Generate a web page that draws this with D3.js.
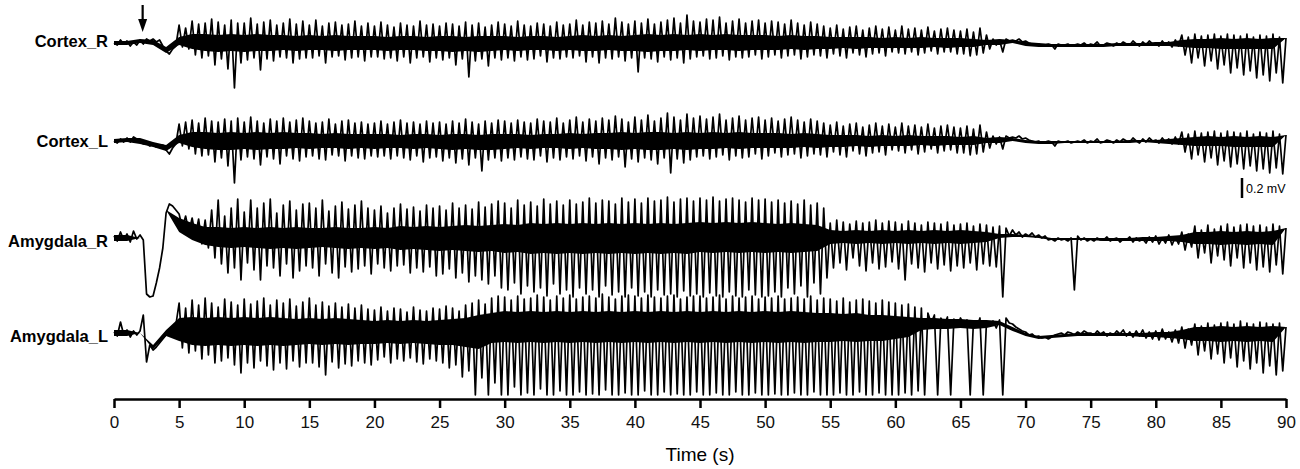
<!DOCTYPE html>
<meta charset="utf-8">
<style>
body { margin: 0; background: #fff; }
.trace { fill: none; stroke: #000; stroke-width: 1.7px; stroke-linejoin: round; }
.core { fill: #000; stroke: none; }
.label { font: bold 16.5px "Liberation Sans", Arial, sans-serif; text-anchor: end; }
.axis path, .axis line { stroke: #000; stroke-width: 2.5px; }
.axis text { font: 17px "Liberation Sans", Arial, sans-serif; fill: #111; }
</style>
<body>
<script src="https://d3js.org/d3.v7.min.js"></script>
<script>

var sampleRate = 4;
var channels = ["Cortex_R", "Cortex_L", "Amygdala_R", "Amygdala_L"];
var xTicks = [0,5,10,15,20,25,30,35,40,45,50,55,60,65,70,75,80,85,90];
var stimTime = 2.2;        // arrow
var scaleBarValue = 200;   // 0.2 mV

var cortexR = [
  0,-20,30,-10, 20,-30,10,-20, 30,-10,40,20, 40,10,30,-30, -80,-110,-60,-30,
  180,-40,150,-60, 220,-120,190,-150, 200,-130,240,-220, 210,-160,180,-260, 230,-450,200,-200,
  200,-170,250,-150, 190,-270,210,-160, 230,-180,180,-140, 200,-150,240,-200, 190,-160,220,-150,
  180,-150,230,-130, 170,-200,200,-140, 210,-130,180,-170, 190,-150,220,-140, 170,-180,200,-140,
  170,-140,210,-160, 180,-150,160,-180, 200,-140,180,-200, 170,-150,220,-140, 180,-190,190,-150,
  170,-170,200,-150, 190,-220,170,-160, 210,-340,180,-180, 200,-160,160,-230, 180,-150,210,-170,
  190,-150,170,-180, 220,-140,180,-170, 170,-160,200,-130, 190,-190,170,-150, 210,-160,180,-140,
  190,-150,230,-130, 180,-190,210,-140, 200,-200,220,-150, 190,-160,250,-140, 210,-180,190,-150,
  220,-290,200,-150, 240,-160,190,-190, 210,-140,230,-170, 250,-150,200,-200, 280,-160,220,-140,
  210,-130,240,-160, 230,-150,260,-130, 200,-170,220,-140, 240,-150,200,-140, 220,-120,230,-160,
  200,-140,220,-120, 210,-150,190,-130, 230,-120,200,-160, 180,-140,210,-120, 190,-130,170,-150,
  150,-110,180,-130, 140,-150,160,-100, 170,-120,130,-140, 150,-110,170,-100, 140,-130,160,-90,
  130,-100,170,-110, 140,-90,150,-120, 130,-100,160,-80, 120,-110,140,-90, 150,-90,130,-110,
  120,-110,140,-130, 110,-120,150,-100, 80,-60,40,-20, 30,-90,40,20, 30,20,40,10,
  20,0,-10,-20, -10,-30,-20,-10, -20,-60,-10,-20, -20,-10,-30,-20, -10,-20,0,-30,
  -10,-20,10,-30, -20,0,-10,-30, 0,-20,10,-10, -20,20,-10,-30, 10,-20,20,-10,
  0,-30,20,-20, 10,-40,30,-30, 80,-120,60,-200, 90,-150,70,-230, 80,-180,90,-260,
  70,-220,90,-300, 80,-250,70,-320, 90,-280,60,-350, 80,-320,70,-380, 90,-300,60,-400,
  50
];

var cortexL = [
  0,-20,20,-10, 30,-10,40,20, 10,-30,-20,-50, -30,-60,-50,-40, -90,-130,-70,-30,
  170,-50,190,-80, 210,-130,180,-150, 230,-140,200,-210, 190,-170,220,-250, 200,-420,230,-190,
  190,-160,240,-180, 200,-240,180,-160, 220,-180,200,-230, 230,-150,190,-180, 210,-200,230,-160,
  200,-150,180,-180, 190,-190,220,-140, 170,-150,200,-200, 210,-150,180,-170, 190,-180,170,-150,
  180,-160,200,-150, 170,-180,190,-150, 210,-170,180,-190, 190,-150,170,-210, 200,-170,180,-160,
  190,-200,170,-170, 200,-220,180,-180, 220,-240,190,-170, 170,-300,200,-190, 180,-170,210,-200,
  200,-170,180,-190, 210,-160,190,-180, 180,-190,220,-150, 200,-210,190,-170, 230,-190,180,-160,
  210,-180,240,-150, 190,-200,220,-160, 200,-230,230,-170, 210,-190,250,-160, 220,-260,190,-180,
  240,-210,210,-170, 260,-190,200,-230, 230,-170,280,-320, 240,-180,210,-220, 270,-190,230,-160,
  250,-150,220,-180, 240,-160,270,-140, 210,-190,230,-150, 250,-170,210,-160, 230,-130,240,-180,
  210,-150,230,-120, 200,-160,220,-140, 240,-130,210,-170, 190,-150,220,-130, 200,-140,180,-160,
  160,-110,190,-140, 150,-160,170,-100, 180,-130,140,-150, 160,-120,180,-110, 150,-140,170,-90,
  140,-100,180,-120, 150,-90,160,-130, 140,-110,170,-80, 130,-120,150,-100, 160,-90,140,-120,
  130,-120,150,-140, 120,-130,160,-110, 90,-70,50,-30, 40,-80,50,30, 40,30,50,20,
  30,10,0,-10, 0,-20,-10,0, -10,-50,0,-10, -10,0,-20,-10, 0,-10,10,-20,
  0,-10,20,-20, -10,10,0,-20, 10,-10,20,0, -10,30,0,-20, 20,-10,30,0,
  10,-20,30,-10, 20,-30,40,-30, 90,-110,70,-180, 100,-140,80,-210, 90,-170,100,-240,
  80,-200,100,-260, 90,-230,80,-280, 100,-250,70,-300, 90,-280,80,-320, 100,-270,70,-330,
  60
];

var amygR = [
  20,-30,60,-20, 40,-40,70,-10, 30,-20,-560,-590, -580,-450,-300,-100, 250,340,320,280,
  240,100,220,60, 200,20,190,-60, 180,-100,280,-200, 380,-260,220,-350, 300,-300,390,-420,
  260,-250,380,-320, 300,-420,350,-280, 390,-300,250,-380, 330,-260,370,-400, 280,-330,340,-280,
  350,-300,300,-380, 380,-260,270,-350, 320,-400,360,-290, 290,-340,330,-310, 370,-280,300,-360,
  280,-260,320,-300, 250,-330,300,-280, 340,-270,290,-350, 310,-300,270,-340, 330,-290,300,-380,
  320,-360,280,-310, 350,-400,300,-350, 330,-440,290,-380, 360,-420,310,-460, 340,-380,370,-500,
  350,-520,300,-450, 380,-560,330,-480, 360,-540,320,-500, 390,-580,340,-460, 370,-560,330,-520,
  380,-590,340,-500, 360,-560,400,-520, 350,-590,380,-480, 370,-570,340,-540, 400,-590,360,-500,
  390,-580,350,-540, 400,-590,370,-520, 380,-570,410,-560, 360,-590,390,-530, 400,-580,370,-560,
  400,-590,380,-550, 410,-580,370,-590, 390,-540,400,-580, 380,-590,360,-520, 400,-570,380,-590,
  390,-580,360,-540, 380,-590,350,-500, 370,-560,340,-480, 380,-590,330,-450, 350,-560,300,-400,
  150,-300,180,-250, 160,-320,140,-200, 170,-280,150,-330, 160,-250,180,-310, 150,-290,170,-240,
  160,-310,140,-420, 170,-260,150,-300, 130,-340,160,-250, 150,-310,140,-270, 160,-330,130,-280,
  140,-300,150,-250, 120,-320,140,-260, 130,-280,110,-290, 120,-590,100,20, 80,30,60,10,
  40,20,50,10, 30,0,20,-20, -10,-30,0,-20, -10,-30,0,-520, 20,-20,0,-30,
  -10,-30,0,-20, -20,10,-30,-10, 0,-40,-10,-20, 10,-40,0,-30, -10,-50,10,-40,
  20,-60,0,-50, 30,-70,10,-60, 60,-120,40,-90, 120,-200,80,-150, 130,-250,90,-180,
  120,-220,140,-280, 110,-200,130,-300, 140,-250,120,-320, 130,-290,110,-340, 140,-270,120,-360,
  100
];

var amygL = [
  10,-30,110,-20, 30,-40,20,-20, 20,180,-290,-120, -170,-140,-100,-60, -20,40,-30,80,
  300,-150,250,-200, 330,-180,280,-260, 350,-220,300,-300, 260,-280,340,-250, 310,-320,280,-400,
  340,-300,290,-350, 320,-280,350,-330, 280,-370,330,-300, 300,-360,340,-280, 270,-340,310,-300,
  350,-300,280,-340, 310,-420,270,-290, 300,-350,260,-310, 290,-330,250,-280, 280,-300,240,-320,
  230,-270,260,-240, 220,-300,250,-260, 240,-280,210,-250, 260,-290,230,-310, 220,-260,250,-280,
  240,-300,270,-350, 250,-320,220,-440, 280,-380,300,-620, 330,-450,290,-620, 350,-500,370,-620,
  360,-620,330,-540, 370,-620,340,-600, 350,-620,380,-560, 360,-620,330,-620, 370,-580,350,-620,
  380,-620,340,-590, 360,-620,370,-610, 350,-620,390,-570, 360,-620,340,-620, 370,-600,380,-620,
  370,-620,350,-580, 380,-620,360,-620, 350,-590,370,-620, 380,-610,340,-620, 360,-620,370,-590,
  370,-620,350,-620, 360,-600,380,-620, 340,-620,370,-590, 350,-620,360,-620, 370,-600,340,-620,
  360,-620,350,-610, 370,-620,340,-620, 350,-600,360,-620, 340,-620,370,-590, 330,-620,350,-620,
  340,-620,320,-600, 350,-620,310,-620, 330,-590,340,-620, 320,-620,300,-600, 330,-620,310,-620,
  300,-620,280,-600, 290,-620,260,-580, 250,-620,200,100, 180,-620,150,80, 160,-620,140,60,
  150,90,130,-620, 120,60,150,-620, 110,80,120,50, 130,-620,150,100, 90,60,40,20,
  10,-20,-10,-40, -30,-50,-40,-60, -40,-20,-10,0, -20,10,0,-20, 10,-10,20,0,
  0,-20,20,-10, 10,-30,0,-20, 20,-10,30,-30, 10,-40,20,-30, 30,-50,10,-60,
  20,-70,40,-60, 10,-90,30,-100, 60,-150,40,-120, 90,-220,70,-180, 100,-260,80,-210,
  100,-300,110,-250, 90,-340,120,-280, 100,-360,90,-300, 110,-400,100,-330, 90,-420,100,-380,
  60
];

// dense inner band of each trace, one value per second (upper / lower edge, microvolts)
var cortexRCoreHi = [20,20,40,30,-40,60,90,90,80,90, 80,90,80,80,70,80,70,80,70,70, 70,60,70,70,60,70,70,60,70,70, 70,60,70,70,60,70,80,70,80,70, 80,90,80,90,80,90,80,90,80,80, 80,70,80,70,70,60,60,60,60,50, 60,50,60,50,50,50,40,30,40,30, 10,0,-10,-10,-10,-10,-10,0,0,0, 10,10,30,40,40,50,40,50,40,50, 50];
var cortexRCoreLo = [-20,-20,0,-20,-100,-20,-60,-80,-90,-80, -90,-80,-80,-70,-80,-70,-70,-80,-70,-70, -70,-80,-70,-70,-80,-80,-90,-80,-90,-80, -70,-80,-70,-70,-80,-70,-80,-80,-70,-80, -80,-90,-80,-80,-70,-80,-70,-70,-80,-70, -70,-70,-60,-70,-60,-60,-50,-60,-50,-50, -50,-50,-50,-40,-50,-40,-40,-20,-20,0, -30,-40,-40,-40,-40,-40,-40,-30,-30,-30, -30,-30,-40,-50,-50,-60,-60,-60,-60,-60, 50];
var cortexLCoreHi = [20,30,30,-10,-40,60,90,90,80,90, 80,90,80,90,80,80,70,80,70,70, 70,70,60,70,70,60,70,70,60,70, 70,70,60,70,70,80,70,80,80,90, 80,90,90,80,90,80,90,80,90,80, 80,80,70,80,70,60,60,60,50,60, 50,60,50,50,50,40,50,30,40,30, 10,0,0,0,0,0,0,0,10,10, 10,20,30,40,50,40,50,40,50,40, 60];
var cortexLCoreLo = [-20,-10,-30,-60,-100,-20,-60,-80,-90,-90, -80,-90,-80,-80,-70,-80,-70,-70,-80,-70, -80,-70,-70,-80,-70,-80,-90,-80,-90,-90, -80,-70,-80,-70,-70,-80,-70,-80,-80,-90, -80,-90,-90,-80,-90,-80,-80,-70,-80,-70, -70,-70,-70,-60,-70,-60,-60,-50,-60,-50, -50,-50,-40,-50,-40,-40,-40,-20,-20,0, -20,-30,-30,-20,-20,-20,-20,-20,-20,-10, -20,-30,-40,-50,-50,-50,-60,-60,-60,-60, 60];
var amygRCoreHi = [30,30,0,-100,280, 200,150,110,110,100, 110,100,110,100,110,100,100,110,100,100, 110,100,120,110,120,110,120,130,120,130, 140,130,150,140,150,140,150,140,150,140, 150,140,150,140,150,160,150,160,150,160, 150,140,150,140,130,80,70,80,70,80, 70,80,70,80,70,80,70,60,40,40, 30,20,0,0,0,0,0,0,0,10, 10,20,30,60,60,70,60,70,60,70, 100];
var amygRCoreLo = [-30,-30,0,-100,280, 60,-20,-70,-90,-100, -90,-100,-110,-100,-110,-100,-90,-100,-110,-100, -110,-100,-120,-110,-120,-130,-120,-130,-140,-130, -150,-140,-160,-150,-160,-150,-160,-150,-160,-150, -160,-150,-160,-150,-160,-140,-150,-140,-150,-140, -150,-140,-150,-140,-130,-60,-50,-60,-50,-60, -50,-60,-50,-60,-50,-60,-50,-40,0,10, 10,0,-20,-20,-20,-20,-30,-30,-30,-30, -30,-30,-40,-60,-60,-70,-60,-70,-60,-70, 100];
var amygLCoreHi = [30,30,0,-120,30, 150,160,150,160,150, 160,150,160,150,140,150,140,150,140,130, 120,130,120,130,120,130,140,150,180,200, 220,210,220,210,220,210,220,210,220,210, 220,210,220,210,220,210,220,210,220,210, 220,210,220,210,200,200,190,200,180,180, 170,160,150,150,140,140,130,130,120,60, 0,-30,-20,-10,0,0,0,0,0,0, 10,10,30,60,60,70,60,70,60,70, 60];
var amygLCoreLo = [-30,-30,0,-160,-30, -80,-120,-130,-120,-130, -120,-130,-120,-130,-120,-110,-120,-110,-120,-110, -110,-100,-110,-100,-110,-120,-120,-140,-160,-100, -90,-100,-90,-100,-90,-100,-90,-100,-90,-100, -90,-100,-90,-100,-90,-100,-90,-100,-90,-100, -90,-100,-90,-100,-90,-90,-80,-90,-80,-80, -60,-40,30,40,40,50,40,50,80,20, -30,-60,-50,-40,-30,-30,-30,-30,-30,-40, -40,-50,-60,-80,-80,-90,-80,-90,-80,-90, 60];

var traces = [cortexR, cortexL, amygR, amygL];
var coreHi = [cortexRCoreHi, cortexLCoreHi, amygRCoreHi, amygLCoreHi];
var coreLo = [cortexRCoreLo, cortexLCoreLo, amygRCoreLo, amygLCoreLo];
var baselines = [43, 141, 238, 333];   // y of each trace's zero
var labelY = [47, 147, 247, 342];

var width = 1300, height = 469;

var svg = d3.select("body").append("svg")
    .attr("width", width)
    .attr("height", height);

var x = d3.scaleLinear()
    .domain([0, 90])
    .range([114, 1286]);

// 0.2 mV = 20 px
var pxPerUv = 20 / scaleBarValue;

traces.forEach(function(values, i) {
  var y = d3.scaleLinear()
      .domain([-1000, 1000])
      .range([baselines[i] + 1000 * pxPerUv, baselines[i] - 1000 * pxPerUv]);

  var band = d3.area()
      .x(function(d, j) { return x(j); })
      .y0(function(d, j) { return y(coreLo[i][j]); })
      .y1(function(d) { return y(d); });

  svg.append("path")
      .datum(coreHi[i])
      .attr("class", "core")
      .attr("d", band);

  var line = d3.line()
      .x(function(d, j) { return x(j / sampleRate); })
      .y(function(d) { return y(d); });

  svg.append("path")
      .datum(values)
      .attr("class", "trace")
      .attr("d", line);

  svg.append("text")
      .attr("class", "label")
      .attr("x", 108)
      .attr("y", labelY[i])
      .text(channels[i]);
});

// stimulus arrow
var ax = x(stimTime);
svg.append("line")
    .attr("x1", ax).attr("x2", ax)
    .attr("y1", 5).attr("y2", 24)
    .attr("stroke", "#000")
    .attr("stroke-width", 2.2);
svg.append("path")
    .attr("d", "M" + (ax - 4.5) + ",19 L" + (ax + 4.5) + ",19 L" + ax + ",32 Z")
    .attr("fill", "#000");

// scale bar
svg.append("line")
    .attr("x1", 1242).attr("x2", 1242)
    .attr("y1", 178).attr("y2", 178 + scaleBarValue * pxPerUv)
    .attr("stroke", "#000")
    .attr("stroke-width", 2.5);
svg.append("text")
    .attr("x", 1246)
    .attr("y", 193)
    .style("font", "12.5px 'Liberation Sans', Arial, sans-serif")
    .text("0.2 mV");

// time axis
var xAxis = d3.axisBottom(x)
    .tickValues(xTicks)
    .tickSize(9)
    .tickSizeOuter(0)
    .tickPadding(8);

svg.append("g")
    .attr("class", "axis")
    .attr("transform", "translate(0,399)")
    .call(xAxis);

svg.append("text")
    .attr("x", 700)
    .attr("y", 461)
    .attr("text-anchor", "middle")
    .style("font", "19px 'Liberation Sans', Arial, sans-serif")
    .text("Time (s)");

</script>
